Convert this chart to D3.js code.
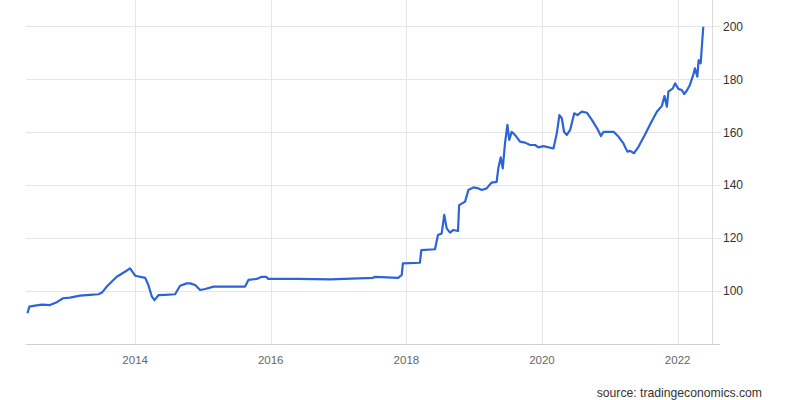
<!DOCTYPE html>
<html>
<head>
<meta charset="utf-8">
<script src="https://cdn.jsdelivr.net/npm/d3@7"></script>
<style>
  html, body { margin: 0; padding: 0; background: #fff; }
  svg { display: block; font-family: "Liberation Sans", Arial, sans-serif; }
</style>
</head>
<body>
<svg id="chart" width="800" height="400"></svg>
<script>
const dates = [
  "2012-05-31","2012-06-10","2012-07-10","2012-08-17","2012-09-29","2012-11-05","2012-12-09",
  "2013-01-15","2013-03-10","2013-05-03","2013-06-17","2013-07-07","2013-08-01","2013-09-24",
  "2013-11-07","2013-12-04","2013-12-15","2014-01-01","2014-02-24","2014-03-13","2014-04-01",
  "2014-04-15","2014-05-07","2014-06-12","2014-08-04","2014-08-31","2014-10-06","2014-10-24",
  "2014-11-20","2014-12-17","2015-01-13","2015-02-27","2015-05-27","2015-08-16","2015-09-03",
  "2015-10-18","2015-11-14","2015-12-07","2015-12-19","2016-05-21","2016-11-17","2017-07-05",
  "2017-07-16","2017-11-18","2017-12-07","2017-12-13","2018-03-15","2018-03-22","2018-06-04",
  "2018-06-20","2018-07-10","2018-07-24","2018-08-06","2018-08-24","2018-09-11","2018-10-06",
  "2018-10-12","2018-11-13","2018-12-01","2018-12-28","2019-01-24","2019-02-11","2019-03-09",
  "2019-04-05","2019-05-02","2019-05-11","2019-05-24","2019-06-04","2019-06-16","2019-06-29",
  "2019-07-09","2019-07-22","2019-08-09","2019-09-05","2019-10-02","2019-10-29","2019-11-25",
  "2019-12-13","2020-01-09","2020-03-03","2020-03-21","2020-04-04","2020-04-17","2020-04-29",
  "2020-05-14","2020-06-01","2020-06-23","2020-07-10","2020-08-03","2020-08-30","2020-09-26",
  "2020-10-24","2020-11-14","2020-11-28","2021-01-21","2021-02-17","2021-03-15","2021-04-05",
  "2021-04-20","2021-05-11","2021-06-04","2021-07-10","2021-08-06","2021-09-11","2021-10-08",
  "2021-10-22","2021-11-04","2021-11-12","2021-12-06","2021-12-18","2022-01-05","2022-01-23",
  "2022-02-05","2022-02-19","2022-03-08","2022-03-26","2022-04-04","2022-04-17","2022-04-24",
  "2022-05-05","2022-05-19"
];
const values = [
  91.6, 94.1, 94.5, 94.9, 94.7, 95.8, 97.3,
  97.5, 98.3, 98.6, 98.8, 99.5, 101.7, 105.4,
  107.3, 108.6, 107.5, 105.8, 105.0, 102.3, 97.9,
  96.6, 98.5, 98.6, 98.8, 102.0, 102.9, 102.9,
  102.3, 100.4, 100.8, 101.7, 101.7, 101.7, 104.2,
  104.6, 105.4, 105.4, 104.6, 104.6, 104.4, 105.0,
  105.4, 105.0, 106.1, 110.5, 110.7, 115.5, 115.8,
  121.2, 121.8, 128.8, 123.7, 122.1, 123.1, 122.7,
  132.5, 133.8, 138.2, 139.2, 138.8, 138.2, 138.8,
  141.0, 141.3, 146.4, 150.5, 146.4, 155.8, 162.8,
  157.1, 160.2, 159.0, 156.5, 156.1, 155.2, 155.2,
  154.3, 154.8, 153.9, 159.6, 166.5, 165.3, 160.2,
  159.0, 160.9, 167.2, 166.5, 167.8, 167.4, 164.7,
  161.5, 158.6, 160.2, 160.2, 158.3, 155.8, 152.7,
  153.0, 152.1, 154.5, 159.3, 163.0, 167.8, 170.0,
  173.7, 169.7, 175.4, 176.6, 178.5, 176.4, 176.0,
  174.5, 175.7, 177.9, 181.7, 184.2, 181.0, 187.3,
  186.1, 199.9
];
const yTicks = [100, 120, 140, 160, 180, 200];
const xTickYears = ["2014", "2016", "2018", "2020", "2022"];
const sourceText = "source: tradingeconomics.com";

const parse = d3.timeParse("%Y-%m-%d");
const data = dates.map((d, i) => ({ date: parse(d), value: values[i] }));

const svg = d3.select("#chart");
const mLeft = 26, mRight = 712, mTop = 0, mBottom = 344;

const x = d3.scaleTime()
  .domain([parse("2012-05-23"), parse("2022-07-05")])
  .range([mLeft, mRight]);
const y = d3.scaleLinear().domain([80, 210]).range([mBottom, mTop]);

const xTicks = xTickYears.map(s => d3.timeParse("%Y")(s));

// horizontal gridlines
svg.append("g").selectAll("line").data(yTicks).join("line")
  .attr("x1", mLeft).attr("x2", mRight + 9)
  .attr("y1", d => Math.round(y(d)) + 0.5).attr("y2", d => Math.round(y(d)) + 0.5)
  .attr("stroke", "#e6e6e6").attr("stroke-width", 1);

// vertical gridlines
svg.append("g").selectAll("line").data(xTicks).join("line")
  .attr("x1", d => Math.round(x(d)) + 0.5).attr("x2", d => Math.round(x(d)) + 0.5)
  .attr("y1", mTop).attr("y2", mBottom)
  .attr("stroke", "#e6e6e6").attr("stroke-width", 1);

// right axis line
svg.append("line")
  .attr("x1", mRight + 0.5).attr("x2", mRight + 0.5)
  .attr("y1", mTop).attr("y2", mBottom)
  .attr("stroke", "#dcdcdc");

// bottom axis line
svg.append("line")
  .attr("x1", mLeft).attr("x2", mRight + 8)
  .attr("y1", mBottom + 0.5).attr("y2", mBottom + 0.5)
  .attr("stroke", "#d0d0d0");

// y labels
svg.append("g").selectAll("text").data(yTicks).join("text")
  .attr("x", 723).attr("y", d => y(d))
  .attr("dy", "0.35em")
  .attr("font-size", 12).attr("fill", "#333")
  .text(d => d);

// x labels
svg.append("g").selectAll("text").data(xTicks).join("text")
  .attr("x", d => x(d)).attr("y", 364)
  .attr("text-anchor", "middle")
  .attr("font-size", 11.5).attr("fill", "#666")
  .text(d => d3.timeFormat("%Y")(d));

// line
const line = d3.line().x(d => x(d.date)).y(d => y(d.value));
svg.append("path").datum(data)
  .attr("d", line)
  .attr("fill", "none")
  .attr("stroke", "#2c63d8")
  .attr("stroke-width", 2.2)
  .attr("stroke-linejoin", "round");

// source
svg.append("text")
  .attr("x", 762).attr("y", 397)
  .attr("text-anchor", "end")
  .attr("font-size", 12.2).attr("fill", "#333")
  .text(sourceText);
</script>
</body>
</html>
